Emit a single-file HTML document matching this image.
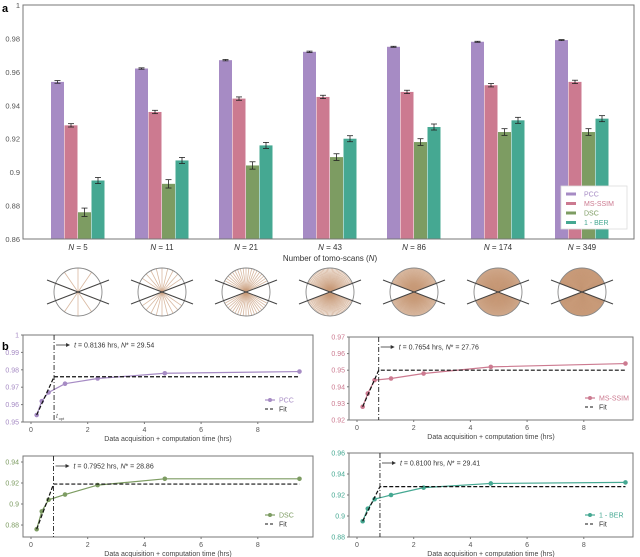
<!DOCTYPE html>
<html><head><meta charset="utf-8">
<style>
html,body{margin:0;padding:0;background:#fff;}
svg{display:block;font-family:"Liberation Sans",sans-serif;}
</style></head>
<body>
<svg id="fig" width="640" height="557" viewBox="0 0 640 557"></svg>
<script>
const categories = ["5","11","21","43","86","174","349"];
const pccVals = [0.954,0.962,0.967,0.972,0.975,0.978,0.979];
const ssimVals = [0.928,0.936,0.944,0.945,0.948,0.952,0.954];
const dscVals = [0.876,0.893,0.904,0.909,0.918,0.924,0.924];
const berVals = [0.895,0.907,0.916,0.920,0.927,0.931,0.932];
const pccErr = [0.0008,0.0004,0.0004,0.0004,0.0003,0.0003,0.0003];
const ssimErr = [0.001,0.001,0.001,0.001,0.001,0.001,0.001];
const dscErr = [0.0025,0.0025,0.0022,0.002,0.002,0.002,0.002];
const berErr = [0.0018,0.0018,0.0018,0.0018,0.0018,0.0018,0.0018];
const topTicks = [0.86,0.88,0.9,0.92,0.94,0.96,0.98,1];
const times = [0.2,0.38,0.62,1.2,2.35,4.72,9.47];
const xTicks = [0,2,4,6,8];
const fitT = [0.8136,0.7654,0.7952,0.8100];
const fitN = ["29.54","27.76","28.86","29.41"];
const plateau = [0.976,0.950,0.919,0.928];

const NS="http://www.w3.org/2000/svg";
const svg=document.getElementById('fig');
function el(tag,attrs,parent){const e=document.createElementNS(NS,tag);for(const k in attrs)e.setAttribute(k,attrs[k]);(parent||svg).appendChild(e);return e;}
function txt(x,y,s,attrs,parent){const t=el('text',Object.assign({x:x,y:y,'font-size':8,fill:'#333'},attrs||{}),parent);t.textContent=s;return t;}

const colors=['#a68bc4','#cc7a90','#7d9c62','#45a892'];
const names=['PCC','MS-SSIM','DSC','1 - BER'];
const series=[pccVals,ssimVals,dscVals,berVals];
const errs=[pccErr,ssimErr,dscErr,berErr];

// panel a
txt(2,12,'a',{'font-size':11,'font-weight':'bold',fill:'#000'});
const ax={x0:23,x1:634,yTop:5,yBot:239,vMin:0.86,vMax:1};
function yA(v){return ax.yBot-(v-ax.vMin)/(ax.vMax-ax.vMin)*(ax.yBot-ax.yTop);}
function gx(i){return 78+i*84;}
const ga=el('g',{});


topTicks.forEach(t=>{const lb=txt(20,yA(t)+3,String(t),{'text-anchor':'end','font-size':7.5,fill:'#555'},ga);});
for(let s=0;s<4;s++){
  categories.forEach((c,i)=>{
    const x=gx(i)-27+s*13.5;
    const v=series[s][i];
    const r=el('rect',{x:x,y:yA(v),width:13,height:ax.yBot-yA(v),fill:colors[s]},ga);
    
    
    const cx=x+6.5,e=errs[s][i];
    el('line',{x1:cx,x2:cx,y1:yA(v+e),y2:yA(v-e),stroke:'#222','stroke-width':0.8},ga);
    el('line',{x1:cx-3,x2:cx+3,y1:yA(v+e),y2:yA(v+e),stroke:'#222','stroke-width':0.8},ga);
    el('line',{x1:cx-3,x2:cx+3,y1:yA(v-e),y2:yA(v-e),stroke:'#222','stroke-width':0.8},ga);
  });
}
el('rect',{x:ax.x0,y:ax.yTop,width:ax.x1-ax.x0,height:ax.yBot-ax.yTop,fill:'none',stroke:'#777','stroke-width':1},ga);
categories.forEach((c,i)=>{const t=el('text',{x:gx(i),y:250,'text-anchor':'middle','font-size':8,fill:'#333'},ga);t.innerHTML='<tspan font-style="italic">N</tspan> = '+c;});
const xt=el('text',{x:330,y:261,'text-anchor':'middle','font-size':8,fill:'#333'});
xt.innerHTML='Number of tomo-scans (<tspan font-style="italic">N</tspan>)';

// legend
const lg=el('g',{});

el('rect',{x:561,y:186,width:66,height:43,fill:'#fff',stroke:'#ddd','stroke-width':0.8},lg);
names.forEach((n,i)=>{const yy=194+i*9.5;el('rect',{x:566,y:yy-1.5,width:10,height:3,fill:colors[i]},lg);const t=txt(584,yy+2.5,n,{'font-size':7,fill:colors[i]},lg);});

// circles
const nLines=[5,11,21,43,86,174,349];
nLines.forEach((n,i)=>{
  const cx=gx(i),cy=292,R=24;
  const g=el('g',{});
  
  const cp='clip'+i;
  const cl=el('clipPath',{id:cp},g);el('circle',{cx:cx,cy:cy,r:R},cl);
  const half=21*Math.PI/180;
  const op=Math.min(0.8,6/Math.sqrt(n)*0.25+0.1);
  for(let k=0;k<n;k++){
    const a=half+(Math.PI-2*half)*(n===1?0.5:k/(n-1));
    const dx=Math.cos(a)*R,dy=Math.sin(a)*R;
    el('line',{x1:cx-dx,y1:cy-dy,x2:cx+dx,y2:cy+dy,stroke:'#c89a78','stroke-width':n>100?1:0.8,'stroke-opacity':n>150?0.5:0.7},g);
  }
  el('circle',{cx:cx,cy:cy,r:R,fill:'none',stroke:'#888','stroke-width':0.9},g);
  el('line',{x1:cx-31,y1:cy-12,x2:cx+31,y2:cy+12,stroke:'#444','stroke-width':1},g);
  el('line',{x1:cx-31,y1:cy+12,x2:cx+31,y2:cy-12,stroke:'#444','stroke-width':1},g);
});

// panel b
txt(2,350,'b',{'font-size':11,'font-weight':'bold',fill:'#000'});
const panels=[
 {x0:23,x1:313,t:335,b:422,vMin:0.95,vMax:1.0,ticks:[0.95,0.96,0.97,0.98,0.99,1],lab:['0.95','0.96','0.97','0.98','0.99','1'],xz:31,s:0,topo:true},
 {x0:349,x1:633,t:337,b:420,vMin:0.92,vMax:0.97,ticks:[0.92,0.93,0.94,0.95,0.96,0.97],lab:['0.92','0.93','0.94','0.95','0.96','0.97'],xz:357,s:1},
 {x0:23,x1:313,t:456,b:537,vMin:0.8686,vMax:0.9457,ticks:[0.88,0.9,0.92,0.94],lab:['0.88','0.9','0.92','0.94'],xz:31,s:2},
 {x0:349,x1:633,t:453,b:537,vMin:0.88,vMax:0.96,ticks:[0.88,0.9,0.92,0.94,0.96],lab:['0.88','0.9','0.92','0.94','0.96'],xz:357,s:3}
];
panels.forEach((p,pi)=>{
  const g=el('g',{});
  
  
  const xs=t=>p.xz+t*28.35;
  const ys=v=>p.b-(v-p.vMin)/(p.vMax-p.vMin)*(p.b-p.t);
  el('rect',{x:p.x0,y:p.t,width:p.x1-p.x0,height:p.b-p.t,fill:'none',stroke:'#777','stroke-width':1},g);
  p.ticks.forEach((t,k)=>{el('line',{x1:p.x0-2,x2:p.x0,y1:ys(t),y2:ys(t),stroke:'#777'},g);txt(p.x0-4,ys(t)+2.5,p.lab[k],{'text-anchor':'end','font-size':7,fill:colors[p.s]},g);});
  xTicks.forEach(t=>{el('line',{x1:xs(t),x2:xs(t),y1:p.b,y2:p.b+2,stroke:'#777'},g);txt(xs(t),p.b+10,String(t),{'text-anchor':'middle','font-size':7,fill:'#555'},g);});
  txt((p.x0+p.x1)/2,p.b+19,'Data acquisition + computation time (hrs)',{'text-anchor':'middle','font-size':7,fill:'#444'},g);
  const vals=series[p.s];
  el('polyline',{points:times.map((t,i)=>xs(t)+','+ys(vals[i])).join(' '),fill:'none',stroke:colors[p.s],'stroke-width':1.2},g);
  times.forEach((t,i)=>{const c=el('circle',{cx:xs(t),cy:ys(vals[i]),r:2.3,fill:colors[p.s]},g);});
  const tf=fitT[pi],pl=plateau[p.s];
  el('polyline',{points:xs(times[0])+','+ys(vals[0])+' '+xs(tf)+','+ys(pl)+' '+xs(times[6])+','+ys(pl),fill:'none',stroke:'#111','stroke-width':1.2,'stroke-dasharray':'4,2'},g);
  el('line',{x1:xs(tf),x2:xs(tf),y1:p.t,y2:p.b,stroke:'#222','stroke-width':0.9,'stroke-dasharray':'5,2,1,2'},g);
  el('line',{x1:xs(tf)+2,x2:xs(tf)+14,y1:p.t+10,y2:p.t+10,stroke:'#333','stroke-width':0.8},g);
  el('polygon',{points:(xs(tf)+16)+','+(p.t+10)+' '+(xs(tf)+12)+','+(p.t+8)+' '+(xs(tf)+12)+','+(p.t+12),fill:'#333'},g);
  const lt=el('text',{x:xs(tf)+20,y:p.t+12.5,'font-size':7,fill:'#333'},g);
  lt.innerHTML='<tspan font-style="italic">t</tspan> = '+tf.toFixed(4)+' hrs, <tspan font-style="italic">N</tspan>* = '+fitN[pi];
  if(p.topo){const o=el('text',{x:xs(tf)+2,y:p.b-4,'font-size':6,fill:'#444','font-style':'italic'},g);o.textContent='t';txt(xs(tf)+4.5,p.b-2,'opt',{'font-size':4,fill:'#444'},g);}
  const lx=p.x1-40,ly=p.b-22;
  el('line',{x1:lx-8,x2:lx+2,y1:ly,y2:ly,stroke:colors[p.s],'stroke-width':1.2},g);
  el('circle',{cx:lx-3,cy:ly,r:2,fill:colors[p.s]},g);
  txt(lx+6,ly+2.5,names[p.s],{'font-size':7,fill:colors[p.s]},g);
  el('line',{x1:lx-8,x2:lx+2,y1:ly+9,y2:ly+9,stroke:'#111','stroke-width':1,'stroke-dasharray':'3,2'},g);
  txt(lx+6,ly+11.5,'Fit',{'font-size':7,fill:'#333'},g);
});
</script>
</body></html>
